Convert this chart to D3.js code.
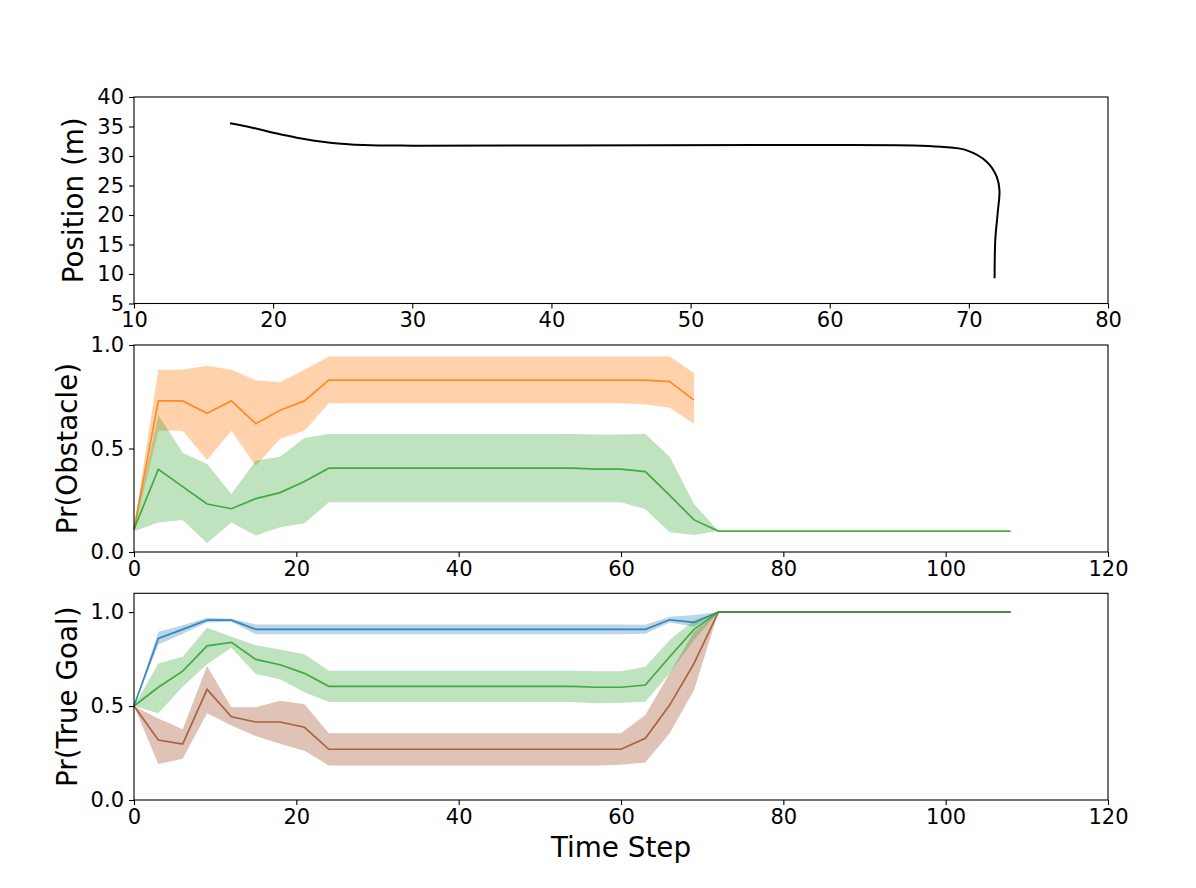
<!DOCTYPE html>
<html>
<head>
<meta charset="utf-8">
<script src="https://cdn.jsdelivr.net/npm/d3@7"></script>
<style>
  body { margin: 0; background: #fff; }
  text { font-family: "DejaVu Sans", sans-serif; }
</style>
</head>
<body>
<div class="canvas"></div>
<script>
const canvasWidth = 1196;
const canvasHeight = 888;

// top panel: trajectory
const posX = [16.9, 18.5, 20, 21.7, 24.1, 26.5, 30, 40, 55, 66, 68, 69.8, 71.3, 72.0, 72.2, 72.07, 71.9, 71.85];
const posY = [35.55, 34.8, 33.95, 33.1, 32.26, 31.86, 31.75, 31.8, 31.85, 31.8, 31.55, 31.0, 29.0, 26.5, 24.2, 20.3, 15.8, 9.3];
const posXTicks = [10, 20, 30, 40, 50, 60, 70, 80];
const posYTicks = [5, 10, 15, 20, 25, 30, 35, 40];

// time steps
const steps = [0, 3, 6, 9, 12, 15, 18, 21, 24, 27, 30, 33, 36, 39, 42, 45, 48, 51, 54, 57, 60, 63, 66, 69, 72, 75, 78, 81, 84, 87, 90, 93, 96, 99, 102, 105, 108];
const timeTicks = [0, 20, 40, 60, 80, 100, 120];
const probTicks = [0.0, 0.5, 1.0];

// middle panel: Pr(Obstacle)
const obsOrangeMean = [0.11, 0.73, 0.73, 0.67, 0.73, 0.62, 0.685, 0.73, 0.83, 0.83, 0.83, 0.83, 0.83, 0.83, 0.83, 0.83, 0.83, 0.83, 0.83, 0.83, 0.83, 0.83, 0.823, 0.734];
const obsOrangeUpper = [0.12, 0.88, 0.88, 0.90, 0.88, 0.83, 0.82, 0.88, 0.945, 0.945, 0.945, 0.945, 0.945, 0.945, 0.945, 0.945, 0.945, 0.945, 0.945, 0.945, 0.945, 0.945, 0.945, 0.863];
const obsOrangeLower = [0.10, 0.586, 0.586, 0.444, 0.586, 0.415, 0.547, 0.586, 0.718, 0.718, 0.718, 0.718, 0.718, 0.718, 0.718, 0.718, 0.718, 0.718, 0.718, 0.718, 0.718, 0.712, 0.697, 0.618];

const obsGreenMean = [0.11, 0.40, 0.316, 0.232, 0.209, 0.258, 0.287, 0.341, 0.405, 0.405, 0.405, 0.405, 0.405, 0.405, 0.405, 0.405, 0.405, 0.405, 0.405, 0.40, 0.40, 0.388, 0.274, 0.155, 0.101, 0.101, 0.101, 0.101, 0.101, 0.101, 0.101, 0.101, 0.101, 0.101, 0.101, 0.101, 0.101];
const obsGreenUpper = [0.12, 0.662, 0.48, 0.425, 0.28, 0.441, 0.46, 0.551, 0.57, 0.57, 0.57, 0.57, 0.57, 0.57, 0.57, 0.57, 0.57, 0.57, 0.57, 0.568, 0.568, 0.57, 0.46, 0.232, 0.101, 0.101, 0.101, 0.101, 0.101, 0.101, 0.101, 0.101, 0.101, 0.101, 0.101, 0.101, 0.101];
const obsGreenLower = [0.10, 0.142, 0.155, 0.042, 0.142, 0.08, 0.119, 0.139, 0.24, 0.24, 0.24, 0.24, 0.24, 0.24, 0.24, 0.24, 0.24, 0.24, 0.24, 0.24, 0.24, 0.206, 0.095, 0.082, 0.101, 0.101, 0.101, 0.101, 0.101, 0.101, 0.101, 0.101, 0.101, 0.101, 0.101, 0.101, 0.101];

// bottom panel: Pr(True Goal)
const goalBlueMean = [0.5, 0.86, 0.908, 0.957, 0.957, 0.908, 0.908, 0.908, 0.908, 0.908, 0.908, 0.908, 0.908, 0.908, 0.908, 0.908, 0.908, 0.908, 0.908, 0.908, 0.908, 0.908, 0.959, 0.945, 1, 1, 1, 1, 1, 1, 1, 1, 1, 1, 1, 1, 1];
const goalBlueUpper = [0.5, 0.895, 0.93, 0.97, 0.965, 0.934, 0.934, 0.934, 0.934, 0.934, 0.934, 0.934, 0.934, 0.934, 0.934, 0.934, 0.934, 0.934, 0.934, 0.934, 0.934, 0.932, 0.975, 0.984, 1, 1, 1, 1, 1, 1, 1, 1, 1, 1, 1, 1, 1];
const goalBlueLower = [0.5, 0.828, 0.885, 0.945, 0.948, 0.882, 0.882, 0.882, 0.882, 0.882, 0.882, 0.882, 0.882, 0.882, 0.882, 0.882, 0.882, 0.882, 0.882, 0.882, 0.882, 0.885, 0.945, 0.922, 1, 1, 1, 1, 1, 1, 1, 1, 1, 1, 1, 1, 1];

const goalGreenMean = [0.5, 0.60, 0.686, 0.82, 0.839, 0.748, 0.72, 0.674, 0.605, 0.605, 0.605, 0.605, 0.605, 0.605, 0.605, 0.605, 0.605, 0.605, 0.605, 0.60, 0.60, 0.612, 0.762, 0.908, 1, 1, 1, 1, 1, 1, 1, 1, 1, 1, 1, 1, 1];
const goalGreenUpper = [0.5, 0.727, 0.762, 0.917, 0.869, 0.824, 0.801, 0.775, 0.688, 0.688, 0.688, 0.688, 0.688, 0.688, 0.688, 0.688, 0.688, 0.688, 0.688, 0.685, 0.685, 0.709, 0.851, 0.957, 1, 1, 1, 1, 1, 1, 1, 1, 1, 1, 1, 1, 1];
const goalGreenLower = [0.5, 0.461, 0.603, 0.723, 0.81, 0.67, 0.642, 0.574, 0.521, 0.521, 0.521, 0.521, 0.521, 0.521, 0.521, 0.521, 0.521, 0.521, 0.521, 0.515, 0.517, 0.523, 0.674, 0.851, 1, 1, 1, 1, 1, 1, 1, 1, 1, 1, 1, 1, 1];

const goalBrownMean = [0.5, 0.319, 0.298, 0.589, 0.443, 0.415, 0.415, 0.387, 0.27, 0.27, 0.27, 0.27, 0.27, 0.27, 0.27, 0.27, 0.27, 0.27, 0.27, 0.27, 0.27, 0.328, 0.505, 0.727, 1, 1, 1, 1, 1, 1, 1, 1, 1, 1, 1, 1, 1];
const goalBrownUpper = [0.5, 0.434, 0.376, 0.713, 0.493, 0.493, 0.528, 0.509, 0.355, 0.355, 0.355, 0.355, 0.355, 0.355, 0.355, 0.355, 0.355, 0.355, 0.355, 0.355, 0.355, 0.452, 0.674, 0.895, 1, 1, 1, 1, 1, 1, 1, 1, 1, 1, 1, 1, 1];
const goalBrownLower = [0.5, 0.191, 0.22, 0.461, 0.397, 0.34, 0.30, 0.262, 0.184, 0.184, 0.184, 0.184, 0.184, 0.184, 0.184, 0.184, 0.184, 0.184, 0.184, 0.184, 0.187, 0.2, 0.355, 0.585, 1, 1, 1, 1, 1, 1, 1, 1, 1, 1, 1, 1, 1];

const svg = d3.select('.canvas')
  .append('svg')
  .attr('width', canvasWidth)
  .attr('height', canvasHeight);

svg.append('rect')
  .attr('width', canvasWidth)
  .attr('height', canvasHeight)
  .attr('fill', '#fff');

const left = 134, right = 1108;

function makePanel(top, bottom, xDomain, yDomain, xTicks, yTicks, yFmt, label, labelX) {
  const x = d3.scaleLinear().domain(xDomain).range([left, right]);
  const y = d3.scaleLinear().domain(yDomain).range([bottom, top]);
  const g = svg.append('g');
  const plot = g.append('g');

  const xAxis = g.append('g')
    .attr('transform', `translate(0,${bottom})`)
    .call(d3.axisBottom(x).tickValues(xTicks).tickSize(5).tickPadding(4).tickSizeOuter(0));
  const yAxis = g.append('g')
    .attr('transform', `translate(${left},0)`)
    .call(d3.axisLeft(y).tickValues(yTicks).tickSize(5).tickPadding(5).tickSizeOuter(0).tickFormat(yFmt));
  [xAxis, yAxis].forEach(a => {
    a.select('.domain').remove();
    a.selectAll('line').attr('stroke', '#000').attr('stroke-width', 1.1);
    a.selectAll('text')
      .attr('font-size', '21px')
      .attr('fill', '#000')
      .attr('font-family', 'DejaVu Sans');
  });

  g.append('rect')
    .attr('x', left).attr('y', top)
    .attr('width', right - left).attr('height', bottom - top)
    .attr('fill', 'none').attr('stroke', '#000').attr('stroke-width', 1.1);

  g.append('text')
    .attr('transform', `translate(${labelX},${(top + bottom) / 2}) rotate(-90)`)
    .attr('text-anchor', 'middle')
    .attr('font-size', '27.8px')
    .attr('fill', '#000')
    .text(label);

  return { x, y, plot };
}

function band(p, xs, mean, upper, lower, color, alpha) {
  const rows = xs.slice(0, mean.length).map((t, i) => ({ t, m: mean[i], u: upper[i], l: lower[i] }));
  p.plot.append('path')
    .datum(rows)
    .attr('fill', color)
    .attr('fill-opacity', alpha)
    .attr('d', d3.area().x(d => p.x(d.t)).y0(d => p.y(d.l)).y1(d => p.y(d.u)));
  p.plot.append('path')
    .datum(rows)
    .attr('fill', 'none')
    .attr('stroke', color)
    .attr('stroke-opacity', 0.85)
    .attr('stroke-width', 1.7)
    .attr('d', d3.line().x(d => p.x(d.t)).y(d => p.y(d.m)));
}

// top
const p1 = makePanel(97, 303.5, [10, 80], [5, 40], posXTicks, posYTicks, d3.format('d'), 'Position (m)', 83);
p1.plot.append('path')
  .datum(posX.map((v, i) => [v, posY[i]]))
  .attr('fill', 'none')
  .attr('stroke', '#000')
  .attr('stroke-width', 2)
  .attr('d', d3.line().x(d => p1.x(d[0])).y(d => p1.y(d[1])).curve(d3.curveCatmullRom.alpha(0.5)));

// middle
const p2 = makePanel(345, 552, [0, 120], [0, 1], timeTicks, probTicks, d3.format('.1f'), 'Pr(Obstacle)', 77);
band(p2, steps, obsOrangeMean, obsOrangeUpper, obsOrangeLower, '#ff7f0e', 0.35);
band(p2, steps, obsGreenMean, obsGreenUpper, obsGreenLower, '#2ca02c', 0.3);

// bottom
const p3 = makePanel(593.3, 800, [0, 120], [0, 1.1], timeTicks, probTicks, d3.format('.1f'), 'Pr(True Goal)', 77);
band(p3, steps, goalBlueMean, goalBlueUpper, goalBlueLower, '#1f77b4', 0.3);
band(p3, steps, goalBrownMean, goalBrownUpper, goalBrownLower, '#a0522d', 0.35);
band(p3, steps, goalGreenMean, goalGreenUpper, goalGreenLower, '#2ca02c', 0.3);

svg.append('text')
  .attr('x', (left + right) / 2)
  .attr('y', 857)
  .attr('text-anchor', 'middle')
  .attr('font-size', '27.8px')
  .attr('fill', '#000')
  .text('Time Step');
</script>
</body>
</html>
